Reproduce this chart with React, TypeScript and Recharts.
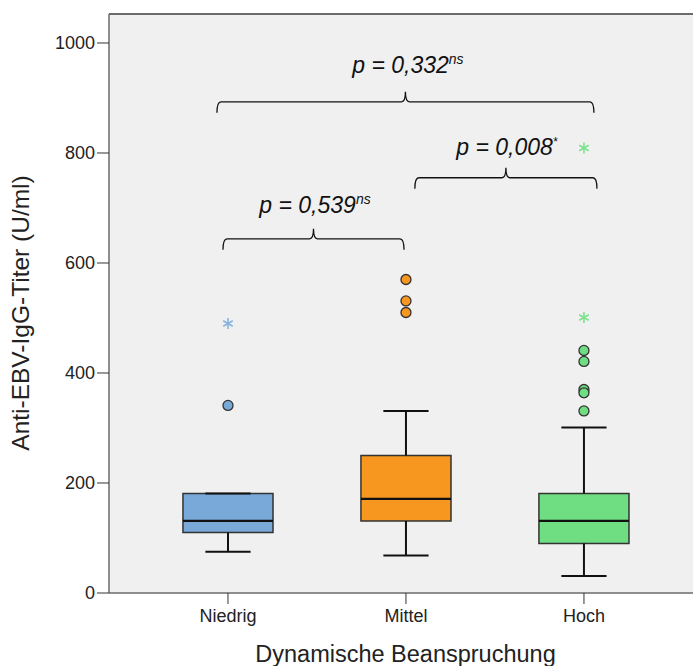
import {
  ComposedChart,
  XAxis,
  YAxis,
  CartesianGrid,
  ReferenceArea,
  ReferenceLine,
  Scatter,
} from "recharts";

const categories = ["Niedrig", "Mittel", "Hoch"];
const q1 = [110, 131, 90];
const median = [131, 171, 131];
const q3 = [181, 250, 181];
const whiskerLow = [75, 68, 31];
const whiskerHigh = [181, 331, 301];
const outliers = [[341], [570, 531, 510], [441, 421, 370, 364, 331]];
const extremes = [[490], [], [501, 809]];
const yTicks = [0, 200, 400, 600, 800, 1000];

const pValues = ["0,332", "0,008", "0,539"];
const sigMarks = ["ns", "*", "ns"];

const boxColors = ["#79A9D8", "#F7971F", "#6FDD82"];
const starColors = ["#86B2E0", "#F7A84A", "#7BE28E"];

// layout of the comparison brackets (data units)
const bracketLeft = [0.938, 2.05, 0.972];
const bracketRight = [3.056, 3.073, 1.989];
const bracketLevel = [893, 755, 644];
const textX = [2.011, 2.567, 1.489];
const textLevel = [945, 796, 691];

const FONT = "'Liberation Sans', Arial, sans-serif";
const FRAME = "#6b6b6b";
const HALF_BOX = 0.253;
const HALF_CAP = 0.127;

const outlierPts = outliers.flatMap((vals, i) =>
  vals.map((v) => ({ x: i + 1, y: v, c: i }))
);
const extremePts = extremes.flatMap((vals, i) =>
  vals.map((v) => ({ x: i + 1, y: v, c: i }))
);
const annotPts = pValues.map((p, i) => ({
  x: textX[i],
  y: textLevel[i],
  p,
  sig: sigMarks[i],
}));

const Bracket = (props: any) => {
  const { x1, x2, y1 } = props;
  if (x1 == null || x2 == null || y1 == null) return null;
  const xm = (x1 + x2) / 2;
  const y = y1;
  const d = `M${x1},${y + 11} Q${x1},${y} ${x1 + 4},${y} L${xm - 4},${y} Q${xm},${y} ${xm},${y - 10} Q${xm},${y} ${xm + 4},${y} L${x2 - 4},${y} Q${x2},${y} ${x2},${y + 11}`;
  return <path d={d} fill="none" stroke="#111" strokeWidth={1.3} />;
};

export default function App() {
  return (
    <div
      style={{
        position: "fixed",
        left: 0,
        top: 0,
        width: 693,
        height: 666,
        overflow: "hidden",
        background: "#fff",
      }}
    >
      <ComposedChart
        width={700}
        height={666}
        margin={{ top: 14, right: 0, bottom: 0, left: 0 }}
      >
        <CartesianGrid
          fill="#F0F0F0"
          horizontal={false}
          vertical={false}
          stroke="none"
        />
        <XAxis
          type="number"
          dataKey="x"
          domain={[0.3315, 3.652]}
          allowDataOverflow
          ticks={[1, 2, 3]}
          tickFormatter={(v: number) => categories[v - 1] ?? ""}
          height={73}
          tickSize={11}
          tickMargin={5}
          axisLine={{ stroke: FRAME, strokeWidth: 1.5 }}
          tickLine={{ stroke: "#333" }}
          tick={{ fill: "#222", fontSize: 18, fontFamily: FONT }}
          label={{
            content: (p: any) => {
              const vb = p.viewBox || {};
              return (
                <text
                  x={vb.x + vb.width / 2 + 1}
                  y={vb.y + 69}
                  textAnchor="middle"
                  fontSize={23.5}
                  fontFamily={FONT}
                  fill="#222"
                >
                  Dynamische Beanspruchung
                </text>
              );
            },
          }}
        />
        <YAxis
          type="number"
          dataKey="y"
          domain={[0, 1052.7]}
          allowDataOverflow
          ticks={yTicks}
          width={109}
          tickSize={12}
          tickMargin={2}
          axisLine={{ stroke: FRAME, strokeWidth: 1.5 }}
          tickLine={{ stroke: "#333" }}
          tick={{ fill: "#222", fontSize: 18, fontFamily: FONT }}
          label={{
            content: (p: any) => {
              const vb = p.viewBox || {};
              const cx = 29;
              const cy = vb.y + vb.height / 2 + 9.5;
              return (
                <text
                  x={cx}
                  y={cy}
                  transform={`rotate(-90, ${cx}, ${cy})`}
                  textAnchor="middle"
                  fontSize={24.5}
                  fontFamily={FONT}
                  fill="#222"
                >
                  Anti-EBV-IgG-Titer (U/ml)
                </text>
              );
            },
          }}
        />

        {/* top frame line */}
        <ReferenceLine y={1052.7} stroke={FRAME} strokeWidth={2} />

        {/* boxes */}
        {categories.map((c, i) => (
          <ReferenceArea
            key={`box-${c}`}
            x1={i + 1 - HALF_BOX}
            x2={i + 1 + HALF_BOX}
            y1={q1[i]}
            y2={q3[i]}
            fill={boxColors[i]}
            fillOpacity={1}
            stroke="#333"
            strokeWidth={1.5}
          />
        ))}

        {/* whiskers */}
        {categories.map((c, i) => (
          <ReferenceLine
            key={`wu-${c}`}
            segment={[
              { x: i + 1, y: q3[i] },
              { x: i + 1, y: whiskerHigh[i] },
            ]}
            stroke="#111"
            strokeWidth={2}
          />
        ))}
        {categories.map((c, i) => (
          <ReferenceLine
            key={`wl-${c}`}
            segment={[
              { x: i + 1, y: q1[i] },
              { x: i + 1, y: whiskerLow[i] },
            ]}
            stroke="#111"
            strokeWidth={2}
          />
        ))}
        {categories.map((c, i) => (
          <ReferenceLine
            key={`cu-${c}`}
            segment={[
              { x: i + 1 - HALF_CAP, y: whiskerHigh[i] },
              { x: i + 1 + HALF_CAP, y: whiskerHigh[i] },
            ]}
            stroke="#111"
            strokeWidth={2}
          />
        ))}
        {categories.map((c, i) => (
          <ReferenceLine
            key={`cl-${c}`}
            segment={[
              { x: i + 1 - HALF_CAP, y: whiskerLow[i] },
              { x: i + 1 + HALF_CAP, y: whiskerLow[i] },
            ]}
            stroke="#111"
            strokeWidth={2}
          />
        ))}
        {categories.map((c, i) => (
          <ReferenceLine
            key={`md-${c}`}
            segment={[
              { x: i + 1 - HALF_BOX, y: median[i] },
              { x: i + 1 + HALF_BOX, y: median[i] },
            ]}
            stroke="#111"
            strokeWidth={2.2}
          />
        ))}

        {/* comparison brackets */}
        {pValues.map((p, i) => (
          <ReferenceLine
            key={`br-${i}`}
            segment={[
              { x: bracketLeft[i], y: bracketLevel[i] },
              { x: bracketRight[i], y: bracketLevel[i] },
            ]}
            shape={Bracket}
          />
        ))}

        <Scatter
          data={outlierPts}
          isAnimationActive={false}
          shape={(p: any) => (
            <circle
              cx={p.cx}
              cy={p.cy}
              r={5}
              fill={boxColors[p.payload.c]}
              stroke="#333"
              strokeWidth={1.3}
            />
          )}
        />
        <Scatter
          data={extremePts}
          isAnimationActive={false}
          shape={(p: any) => {
            const col = starColors[p.payload.c];
            const r = 5.5;
            const a = r * Math.cos(Math.PI / 6);
            const b = r * Math.sin(Math.PI / 6);
            return (
              <g stroke={col} strokeWidth={1.6}>
                <line x1={p.cx} y1={p.cy - r} x2={p.cx} y2={p.cy + r} />
                <line x1={p.cx - a} y1={p.cy - b} x2={p.cx + a} y2={p.cy + b} />
                <line x1={p.cx - a} y1={p.cy + b} x2={p.cx + a} y2={p.cy - b} />
              </g>
            );
          }}
        />
        <Scatter
          data={annotPts}
          isAnimationActive={false}
          shape={(p: any) => (
            <text
              x={p.cx}
              y={p.cy}
              textAnchor="middle"
              fontFamily={FONT}
              fontStyle="italic"
              fontSize={23}
              fill="#111"
            >
              {`p = ${p.payload.p}`}
              <tspan fontSize={p.payload.sig === "*" ? 12 : 14} dy={-9}>
                {p.payload.sig}
              </tspan>
            </text>
          )}
        />
      </ComposedChart>
    </div>
  );
}
